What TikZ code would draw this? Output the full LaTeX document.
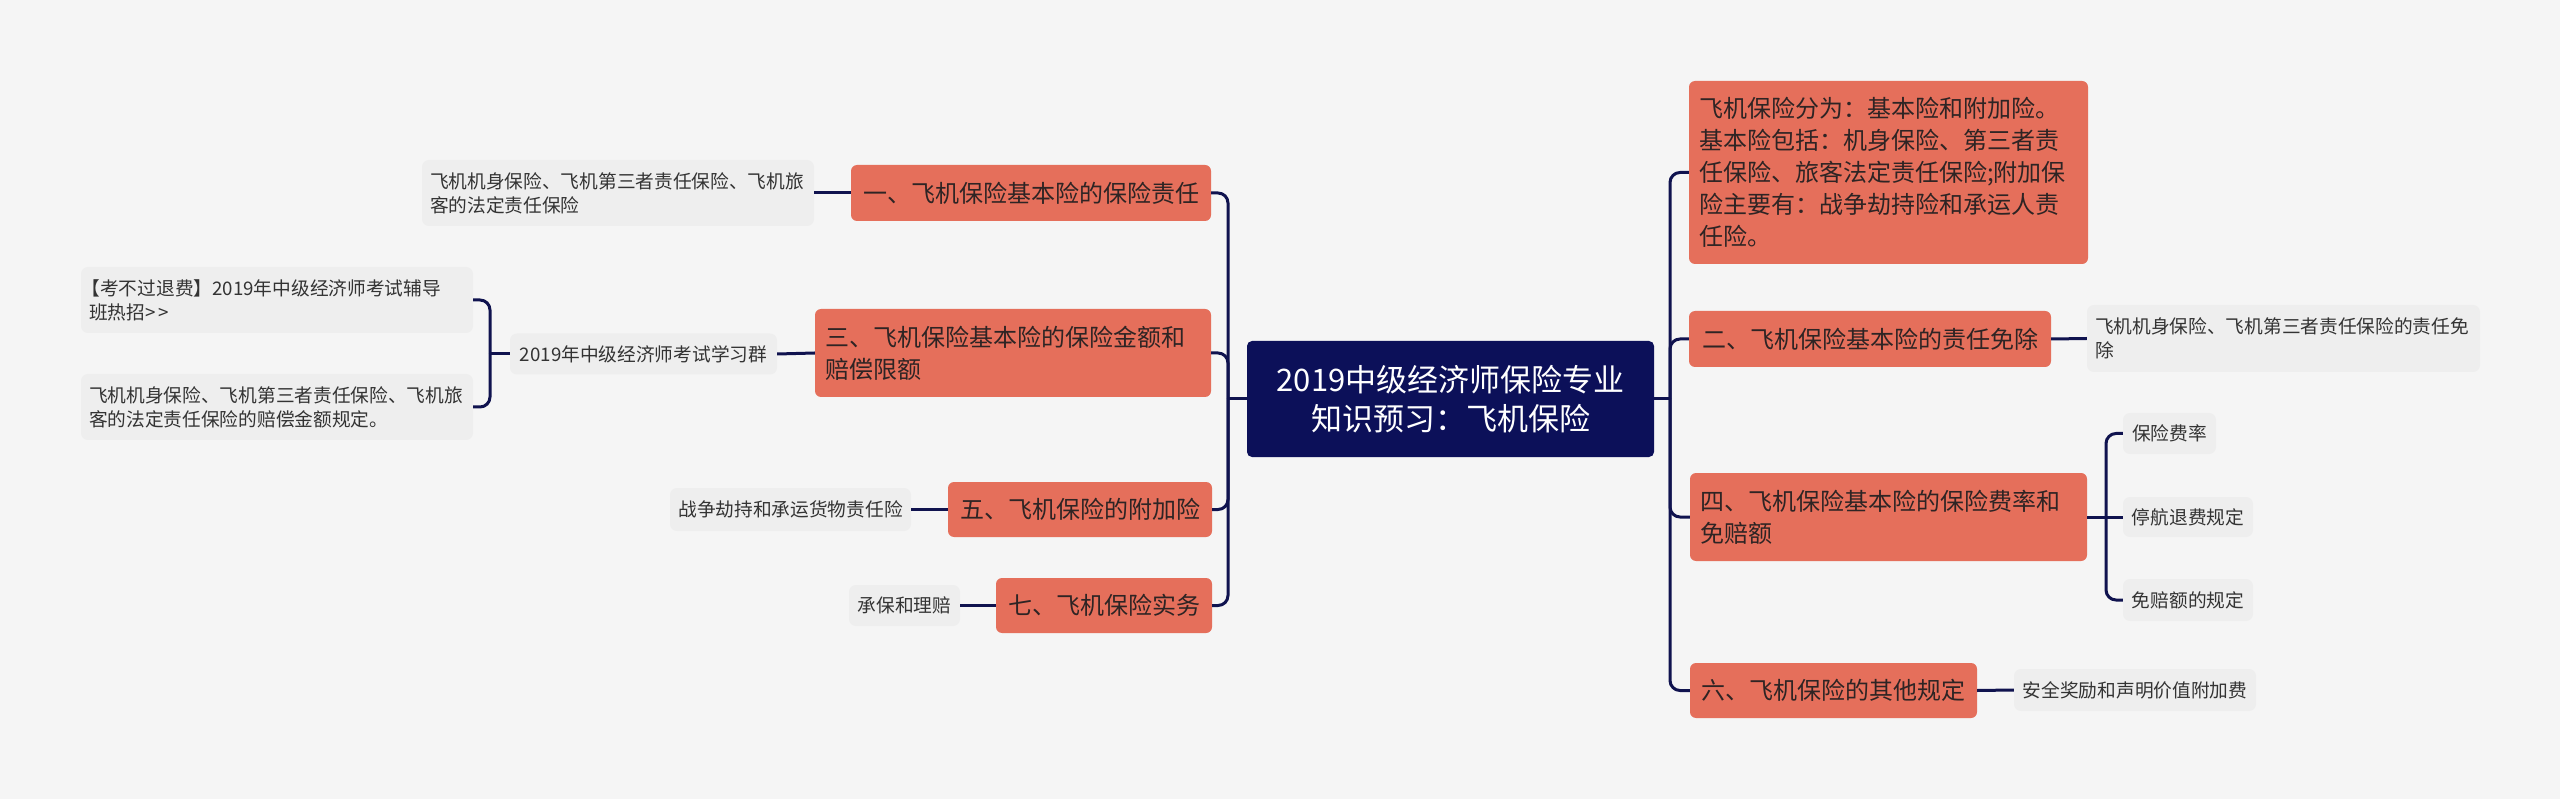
\documentclass[tikz,border=0pt]{standalone}
\usepackage{fontspec}
\setmainfont{Noto Sans CJK SC}
\definecolor{bgc}{HTML}{F5F5F5}
\definecolor{rootc}{HTML}{0C1059}
\definecolor{topicc}{HTML}{E56F5B}
\definecolor{topictext}{HTML}{2E2424}
\definecolor{leafc}{HTML}{EEEEEE}
\definecolor{leaftext}{HTML}{333333}
\definecolor{linec}{HTML}{10134F}
\tikzset{
  conn/.style={draw=linec, line width=3pt, rounded corners=10pt},
  rootbox/.style={fill=rootc, text=white, rounded corners=5pt, inner sep=0pt, align=center, font=\fontsize{31}{39}\selectfont},
  topicbox/.style={fill=topicc, text=topictext, rounded corners=6pt, inner xsep=10pt, inner ysep=0pt, align=left, font=\fontsize{24}{32}\selectfont},
  leafbox/.style={fill=leafc, text=leaftext, rounded corners=7pt, inner xsep=8pt, inner ysep=0pt, align=left, font=\fontsize{18.7}{24}\selectfont},
}
\begin{document}
\begin{tikzpicture}[x=1pt,y=-1pt]
\fill[bgc] (0,0) rectangle (2560,799);
\useasboundingbox (0,0) rectangle (2560,799);

% root
\node[rootbox, minimum width=407pt, minimum height=116pt] (root) at (1450.5,399) {2019中级经济师保险专业\\知识预习：飞机保险};

% left topics
\node[topicbox, minimum width=360pt, minimum height=56pt] (L1) at (1031,193) {一、飞机保险基本险的保险责任};
\node[topicbox, text width=376pt, minimum height=88pt] (L3) at (1013,353) {三、飞机保险基本险的保险金额和\\赔偿限额};
\node[topicbox, minimum width=264pt, minimum height=55pt] (L5) at (1080,509.5) {五、飞机保险的附加险};
\node[topicbox, minimum width=216pt, minimum height=55pt] (L7) at (1104,605.5) {七、飞机保险实务};

% left leaves
\node[leafbox, text width=376pt, minimum height=66pt] (L1c) at (618,193) {飞机机身保险、飞机第三者责任保险、飞机旅\\客的法定责任保险};
\node[leafbox, minimum width=267pt, minimum height=41pt] (L3c) at (643.5,354) {2019年中级经济师考试学习群};
\node[leafbox, text width=376pt, minimum height=66pt] (LL1) at (277,300) {\hspace*{-0.4em}【考不过退费】2019年中级经济师考试辅导\\班热招>\hspace{0.18em}>};
\node[leafbox, text width=376pt, minimum height=66pt] (LL2) at (277,407) {飞机机身保险、飞机第三者责任保险、飞机旅\\客的法定责任保险的赔偿金额规定。};
\node[leafbox, minimum width=241pt, minimum height=43pt] (L5c) at (790.5,509.5) {战争劫持和承运货物责任险};
\node[leafbox, minimum width=111pt, minimum height=41pt] (L7c) at (904.5,605.5) {承保和理赔};

% right topics
\node[topicbox, text width=379pt, minimum height=183pt] (R1) at (1888.5,172.5) {飞机保险分为：基本险和附加险。\\基本险包括：机身保险、第三者责\\任保险、旅客法定责任保险;附加保\\险主要有：战争劫持险和承运人责\\任险。};
\node[topicbox, minimum width=362pt, minimum height=56pt] (R2) at (1870,339) {二、飞机保险基本险的责任免除};
\node[topicbox, text width=377pt, minimum height=88pt] (R4) at (1888.5,517) {四、飞机保险基本险的保险费率和\\免赔额};
\node[topicbox, minimum width=287pt, minimum height=55pt] (R6) at (1833.5,690.5) {六、飞机保险的其他规定};

% right leaves
\node[leafbox, text width=377pt, minimum height=67pt] (R2c) at (2283.5,338.5) {飞机机身保险、飞机第三者责任保险的责任免\\除};
\node[leafbox, minimum width=93pt, minimum height=41pt] (R4a) at (2169.5,433.5) {保险费率};
\node[leafbox, minimum width=130pt, minimum height=40pt] (R4b) at (2188,517) {停航退费规定};
\node[leafbox, minimum width=130pt, minimum height=42pt] (R4c) at (2188,600) {免赔额的规定};
\node[leafbox, minimum width=242pt, minimum height=42pt] (R6c) at (2135,690) {安全奖励和声明价值附加费};

% junctions
\coordinate (lj) at (1228,399);
\coordinate (rj) at (1670,399);
\coordinate (bj) at (490,354);
\coordinate (r4j) at (2106,517);

% left connectors
\draw[conn] (root.west) -- (lj);
\draw[conn] (lj) |- (L1.east);
\draw[conn] (lj) |- (L3.east);
\draw[conn] (lj) |- (L5.east);
\draw[conn] (lj) |- (L7.east);
\draw[conn] (L1.west) -- (L1c.east);
\draw[conn] (L3.west) -- (L3c.east);
\draw[conn] (L5.west) -- (L5c.east);
\draw[conn] (L7.west) -- (L7c.east);
\draw[conn] (L3c.west) -- (bj);
\draw[conn] (bj) |- (LL1.east);
\draw[conn] (bj) |- (LL2.east);

% right connectors
\draw[conn] (root.east) -- (rj);
\draw[conn] (rj) |- (R1.west);
\draw[conn] (rj) |- (R2.west);
\draw[conn] (rj) |- (R4.west);
\draw[conn] (rj) |- (R6.west);
\draw[conn] (R2.east) -- (R2c.west);
\draw[conn] (R6.east) -- (R6c.west);
\draw[conn] (R4.east) -- (r4j);
\draw[conn] (r4j) |- (R4a.west);
\draw[conn] (r4j) -- (R4b.west);
\draw[conn] (r4j) |- (R4c.west);
\end{tikzpicture}
\end{document}
